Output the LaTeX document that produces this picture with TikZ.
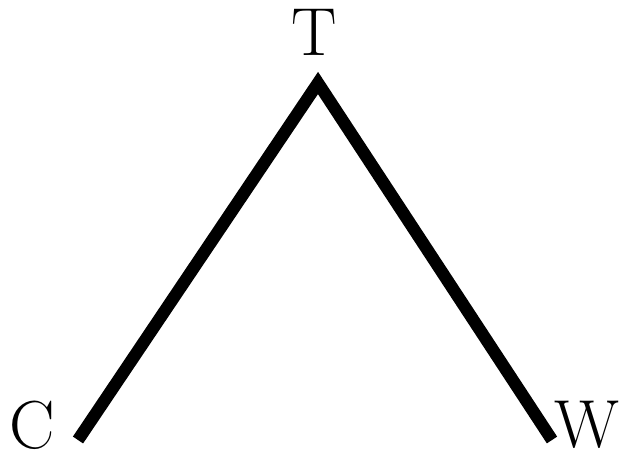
\documentclass[tikz,border=0pt]{standalone}
\usetikzlibrary{positioning}

\begin{document}
\begin{tikzpicture}[x=0.03cm,y=-0.03cm,
    vertex/.style={font=\fontsize{58}{60}\selectfont, inner sep=0pt},
    leg/.style={line width=10.5pt, line join=miter}]
    \useasboundingbox (0,0) rectangle (627,456);
    % corners of the wedge
    \coordinate (apex) at (318,83);
    \coordinate (cend) at (78,440);
    \coordinate (wend) at (552,440);
    \node[vertex] (T) at (314,32) {T};
    \node[vertex] (C) at (32,425) {C};
    \node[vertex] (W) at (587,425) {W};
    \draw[leg] (cend) -- (apex) -- (wend);
\end{tikzpicture}
\end{document}
